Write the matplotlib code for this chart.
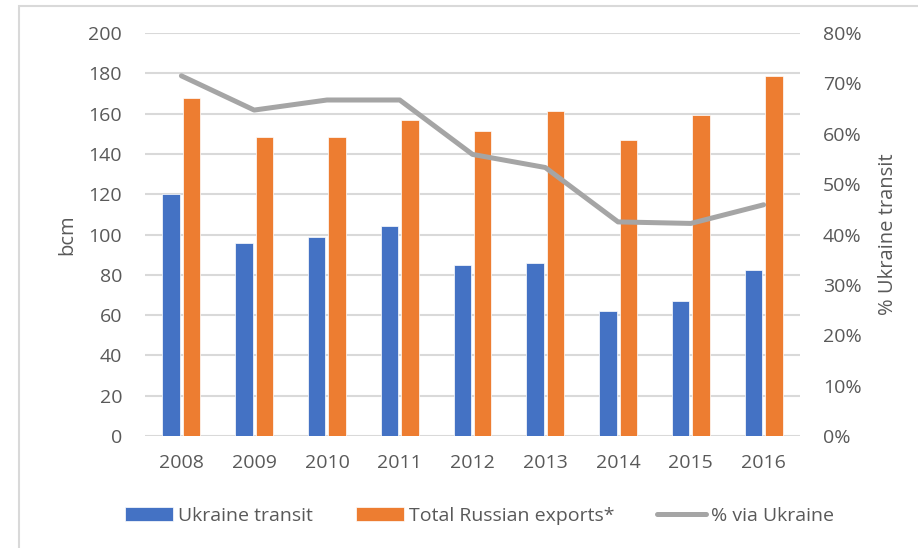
import numpy as np
import matplotlib
matplotlib.use("Agg")
from matplotlib import pyplot as plt
from matplotlib.patches import Rectangle
from matplotlib.ticker import FuncFormatter

years = ["2008", "2009", "2010", "2011", "2012", "2013", "2014", "2015", "2016"]
ukraine_transit = [120, 96, 98.6, 104.2, 84.7, 85.9, 62, 67.1, 82.2]
russian_exports = [167.6, 148.2, 148.2, 157, 151.2, 161.3, 146.7, 159.3, 178.8]
pct_via_ukraine = [71.5, 64.7, 66.7, 66.7, 55.9, 53.3, 42.5, 42.2, 45.9]

blue = "#4472c4"
orange = "#ed7d31"
grey = "#a5a5a5"
txt = "#595959"

plt.rcParams["font.family"] = ["Open Sans", "DejaVu Sans"]
plt.rcParams["font.size"] = 14

fig = plt.figure(figsize=(9.18, 5.48), dpi=100)
# chart frame
fig.patches.append(Rectangle((19 / 918, -0.1), 1.2, 1 - 6 / 548 + 0.1,
                             transform=fig.transFigure, fill=False,
                             edgecolor="#d9d9d9", linewidth=1.5))

ax = fig.add_axes([145 / 918, 1 - 436 / 548, 655 / 918, 403 / 548])
x = np.arange(len(years))
w = 0.24
b1 = ax.bar(x - 0.14, ukraine_transit, w, color=blue, edgecolor="white",
            linewidth=0.5, label="Ukraine transit", zorder=2)
b2 = ax.bar(x + 0.14, russian_exports, w, color=orange, edgecolor="white",
            linewidth=0.5, label="Total Russian exports*", zorder=2)
ax.set_xlim(-0.5, len(years) - 0.5)
ax.set_ylim(0, 200)
ax.set_yticks(range(0, 201, 20))
ax.set_xticks(x)
ax.set_xticklabels(years)
ax.grid(axis="y", color="#d9d9d9", linewidth=1.5, zorder=0)
ax.set_axisbelow(True)
for s in ax.spines.values():
    s.set_visible(False)
ax.tick_params(length=0, colors=txt, labelsize=14)
ax.tick_params(axis="y", pad=16.5)
ax.tick_params(axis="x", pad=13)
ax.set_ylabel("bcm", color=txt, fontsize=14.5, labelpad=8)

ax2 = ax.twinx()
l1, = ax2.plot(x, pct_via_ukraine, color=grey, linewidth=3.6,
               solid_capstyle="round", label="% via Ukraine", zorder=3)
ax2.set_ylim(0, 80)
ax2.set_yticks(range(0, 81, 10))
ax2.yaxis.set_major_formatter(FuncFormatter(lambda v, p: f"{v:.0f}%"))
for s in ax2.spines.values():
    s.set_visible(False)
ax2.tick_params(length=0, colors=txt, labelsize=14, pad=16.5)
ax2.set_ylabel("% Ukraine transit", color=txt, fontsize=14.5, labelpad=12)

fig.legend(handles=[b1, b2, l1], loc="center", bbox_to_anchor=(0.522, 1 - 516 / 548),
           ncol=3, frameon=False, fontsize=14, labelcolor=txt,
           handlelength=2.5, handletextpad=0.25, columnspacing=2.2)

fig.savefig("out.png", dpi=100)
